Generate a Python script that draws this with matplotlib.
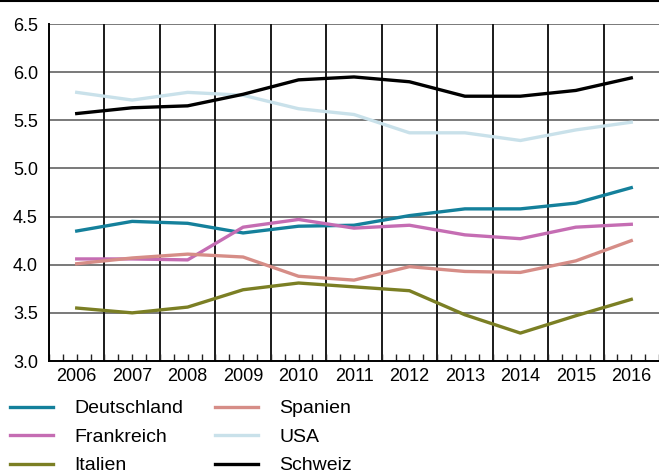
import matplotlib.pyplot as plt
from matplotlib.lines import Line2D
from matplotlib.ticker import MultipleLocator, FixedLocator

plt.rcParams['font.family'] = ['Liberation Sans', 'DejaVu Sans']

jahre = list(range(2006, 2017))
deutschland = [4.35, 4.45, 4.43, 4.33, 4.40, 4.41, 4.51, 4.58, 4.58, 4.64, 4.80]
frankreich = [4.06, 4.06, 4.05, 4.39, 4.47, 4.38, 4.41, 4.31, 4.27, 4.39, 4.42]
italien = [3.55, 3.50, 3.56, 3.74, 3.81, 3.77, 3.73, 3.48, 3.29, 3.47, 3.64]
spanien = [4.01, 4.07, 4.11, 4.08, 3.88, 3.84, 3.98, 3.93, 3.92, 4.04, 4.25]
usa = [5.79, 5.71, 5.79, 5.76, 5.62, 5.56, 5.37, 5.37, 5.29, 5.40, 5.48]
schweiz = [5.57, 5.63, 5.65, 5.77, 5.92, 5.95, 5.90, 5.75, 5.75, 5.81, 5.94]

serien = [
    ('Deutschland', deutschland, '#14809b'),
    ('Frankreich', frankreich, '#c56db3'),
    ('Italien', italien, '#7b7f24'),
    ('Spanien', spanien, '#d68d87'),
    ('USA', usa, '#c9e1ea'),
    ('Schweiz', schweiz, '#000000'),
]

fig = plt.figure(figsize=(6.59, 4.73), dpi=100)
ax = fig.add_axes([49 / 659, 1 - 361 / 473, 1 - 49 / 659, 337 / 473])

# Gitter: graue Horizontale, schwarze Jahresgrenzen
for y in [3.5, 4.0, 4.5, 5.0, 5.5, 6.0, 6.5]:
    ax.axhline(y, color='#626262', lw=1.2, zorder=1)
for j in jahre[:-1]:
    ax.axvline(j + 0.5, color='#1a1a1a', lw=1.4, zorder=1)

for name, werte, farbe in serien:
    ax.plot(jahre, werte, color=farbe, lw=2.4, label=name, zorder=3)

ax.set_xlim(2005.5, 2016.5)
ax.set_ylim(3.0, 6.5)
ax.set_xticks(jahre)
ax.set_xticklabels([str(j) for j in jahre])
ax.xaxis.set_minor_locator(FixedLocator([2005.5 + 0.25 * i for i in range(45)]))
ax.yaxis.set_major_locator(MultipleLocator(0.5))
ax.set_yticklabels([f'{v:.1f}' for v in ax.get_yticks()])

ax.tick_params(axis='x', which='both', direction='in', length=5, width=1,
               color='#222222', labelsize=13, pad=5)
ax.tick_params(axis='y', length=0, labelsize=13, pad=8)

for s in ['top', 'right']:
    ax.spines[s].set_visible(False)
ax.spines['left'].set_linewidth(1.4)
ax.spines['bottom'].set_linewidth(1.4)

fig.add_artist(Line2D([0, 1], [1 - 1.5 / 473] * 2, color='black', lw=1.5))

handles, labels = ax.get_legend_handles_labels()
fig.legend(handles, labels, ncol=2, loc='upper left',
           bbox_to_anchor=(2 / 659, 1 - 392 / 473), frameon=False,
           fontsize=14, handlelength=2.2, handletextpad=1.1,
           columnspacing=1.65, labelspacing=0.56, borderaxespad=0)

fig.savefig('out.png', dpi=100)
